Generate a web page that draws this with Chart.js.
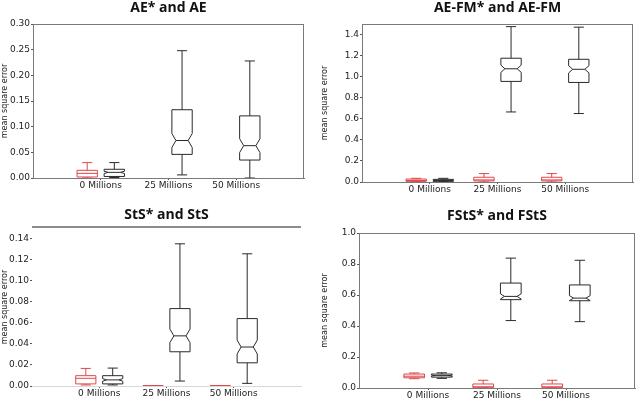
<!DOCTYPE html>
<html lang="en">
<head>
<meta charset="UTF-8">
<title>Mean square error boxplots</title>
<script src="https://cdn.jsdelivr.net/npm/chart.js"></script>
<style>
  body { margin: 0; background: #fff; }
  .panel { position: absolute; width: 320px; height: 199px; }
</style>
</head>
<body>
<div class="panel" style="left:0;top:0"><canvas id="ae"></canvas></div>
<div class="panel" style="left:320px;top:0"><canvas id="aefm"></canvas></div>
<div class="panel" style="left:0;top:199px"><canvas id="sts"></canvas></div>
<div class="panel" style="left:320px;top:199px"><canvas id="fsts"></canvas></div>

<script>
// categories on the x axis
const categories = ['0 Millions', '25 Millions', '50 Millions'];

// one entry per category: [whisker low, Q1, median, Q3, whisker high], null = no box
const aeStar   = [[0.000, 0.002, 0.009, 0.015, 0.030], null, null];
const ae       = [[0.001, 0.003, 0.011, 0.017, 0.030], [0.006, 0.046, 0.073, 0.133, 0.248], [0.000, 0.035, 0.063, 0.121, 0.228]];
const aeFmStar = [[0.000, 0.006, 0.014, 0.028, 0.035], [0.000, 0.010, 0.020, 0.045, 0.080], [0.000, 0.010, 0.020, 0.045, 0.080]];
const aeFm     = [[0.000, 0.006, 0.014, 0.025, 0.035], [0.665, 0.955, 1.075, 1.175, 1.475], [0.650, 0.945, 1.070, 1.165, 1.470]];
const stsStar  = [[0.001, 0.002, 0.0073, 0.0098, 0.0167], [0.0000, 0.0001, 0.0002, 0.0003, 0.0004], [0.0000, 0.0001, 0.0002, 0.0003, 0.0004]];
const sts      = [[0.001, 0.002, 0.0058, 0.0098, 0.017], [0.0047, 0.0325, 0.0476, 0.0735, 0.135], [0.0025, 0.022, 0.037, 0.064, 0.1255]];
const fstsStar = [[0.060, 0.066, 0.076, 0.090, 0.097], [0.000, 0.002, 0.008, 0.026, 0.050], [0.000, 0.002, 0.008, 0.026, 0.050]];
const fsts     = [[0.062, 0.070, 0.080, 0.090, 0.098], [0.435, 0.570, 0.591, 0.677, 0.838], [0.428, 0.563, 0.580, 0.665, 0.824]];

// y tick labels
const aeTicks   = [0, 0.05, 0.10, 0.15, 0.20, 0.25, 0.30];
const aeFmTicks = [0, 0.2, 0.4, 0.6, 0.8, 1.0, 1.2, 1.4];
const stsTicks  = [0, 0.02, 0.04, 0.06, 0.08, 0.10, 0.12, 0.14];
const fstsTicks = [0, 0.2, 0.4, 0.6, 0.8, 1.0];

const RED = '#e0474c';
const BLACK = '#2a2a2a';
const FRAME = '#7a7a7a';
const BOX_W = 0.3;      // box width in x units
const OFFSET = 0.2;     // star box left of tick, plain box right
const NOTCH_K = 0.157;  // 1.57 / sqrt(100)

const panels = [
  { id: 'ae', title: 'AE* and AE', star: aeStar, plain: ae, ticks: aeTicks, max: 0.30, dec: 2,
    area: { left: 33, right: 304, top: 24, bottom: 178 }, titleY: 8.5, frame: 'box' },
  { id: 'aefm', title: 'AE-FM* and AE-FM', star: aeFmStar, plain: aeFm, ticks: aeFmTicks, max: 1.5, dec: 1,
    area: { left: 42, right: 313, top: 24, bottom: 182 }, titleY: 8.5, frame: 'box' },
  { id: 'sts', title: 'StS* and StS', star: stsStar, plain: sts, ticks: stsTicks, max: 0.15, dec: 2,
    area: { left: 32, right: 301, top: 29, bottom: 187 }, titleY: 16.5, frame: 'top' },
  { id: 'fsts', title: 'FStS* and FStS', star: fstsStar, plain: fsts, ticks: fstsTicks, max: 1.0, dec: 1,
    area: { left: 39, right: 315, top: 34, bottom: 189 }, titleY: 17.5, frame: 'box' }
];

function drawBox(ctx, xs, ys, pos, s, color, notched) {
  if (!s) return;
  const [lo, q1, med, q3, hi] = s;
  const py = v => ys.getPixelForValue(v);
  const xc = xs.getPixelForValue(pos);
  const half = xs.getPixelForValue(pos + BOX_W / 2) - xc;
  const cap = half / 2;
  const L = xc - half, R = xc + half;
  ctx.save();
  ctx.strokeStyle = color;
  ctx.lineWidth = 1;
  // whiskers and caps
  ctx.beginPath();
  ctx.moveTo(xc, py(q3)); ctx.lineTo(xc, py(hi));
  ctx.moveTo(xc, py(q1)); ctx.lineTo(xc, py(lo));
  ctx.moveTo(xc - cap, py(hi)); ctx.lineTo(xc + cap, py(hi));
  ctx.moveTo(xc - cap, py(lo)); ctx.lineTo(xc + cap, py(lo));
  ctx.stroke();
  // box
  ctx.beginPath();
  let ind = 0;
  if (notched) {
    const d = NOTCH_K * (q3 - q1);
    ind = half * 0.4;
    ctx.moveTo(L, py(q1)); ctx.lineTo(R, py(q1));
    ctx.lineTo(R, py(med - d)); ctx.lineTo(R - ind, py(med)); ctx.lineTo(R, py(med + d));
    ctx.lineTo(R, py(q3)); ctx.lineTo(L, py(q3));
    ctx.lineTo(L, py(med + d)); ctx.lineTo(L + ind, py(med)); ctx.lineTo(L, py(med - d));
    ctx.closePath();
  } else {
    ctx.rect(L, py(q3), R - L, py(q1) - py(q3));
  }
  ctx.stroke();
  // median
  ctx.beginPath();
  ctx.moveTo(L + ind, py(med)); ctx.lineTo(R - ind, py(med));
  ctx.stroke();
  ctx.restore();
}

const boxPlugin = {
  id: 'boxes',
  afterDatasetsDraw(chart, args, opts) {
    const ctx = chart.ctx, xs = chart.scales.x, ys = chart.scales.y;
    ctx.save();
    ctx.beginPath();
    ctx.rect(chart.chartArea.left, chart.chartArea.top - 2, chart.chartArea.width, chart.chartArea.height + 2);
    ctx.clip();
    opts.star.forEach((s, i) => drawBox(ctx, xs, ys, i + 1 - OFFSET, s, RED, false));
    opts.plain.forEach((s, i) => drawBox(ctx, xs, ys, i + 1 + OFFSET, s, BLACK, true));
    ctx.restore();
  },
  afterDraw(chart, args, opts) {
    const ctx = chart.ctx, a = chart.chartArea;
    ctx.save();
    if (opts.frame === 'box') {
      ctx.strokeStyle = FRAME;
      ctx.lineWidth = 1;
      ctx.beginPath();
      ctx.moveTo(a.left, a.top + 0.5); ctx.lineTo(a.right, a.top + 0.5);
      ctx.moveTo(a.right - 0.5, a.top); ctx.lineTo(a.right - 0.5, a.bottom);
      ctx.stroke();
    } else {
      ctx.strokeStyle = '#8c8c8c';
      ctx.lineWidth = 2;
      ctx.beginPath();
      ctx.moveTo(a.left, a.top - 1); ctx.lineTo(a.right, a.top - 1);
      ctx.stroke();
    }
    ctx.restore();
  }
};

panels.forEach(p => {
  const a = p.area;
  const medians = [];
  p.plain.forEach((s, i) => { if (s) medians.push({ x: i + 1 + OFFSET, y: s[2] }); });
  const starMedians = [];
  p.star.forEach((s, i) => { if (s) starMedians.push({ x: i + 1 - OFFSET, y: s[2] }); });

  new Chart(document.getElementById(p.id), {
    type: 'scatter',
    data: {
      datasets: [
        { label: p.title.split(' and ')[0], data: starMedians, pointRadius: 0, borderColor: RED, backgroundColor: RED },
        { label: p.title.split(' and ')[1], data: medians, pointRadius: 0, borderColor: BLACK, backgroundColor: BLACK }
      ]
    },
    options: {
      responsive: true,
      maintainAspectRatio: false,
      animation: false,
      layout: { padding: { left: 0, top: 0, right: 320 - a.right, bottom: 0 } },
      plugins: {
        legend: { display: false },
        tooltip: { enabled: false },
        title: {
          display: true,
          text: p.title,
          fullSize: false,
          color: '#111',
          font: { family: '"Open Sans", sans-serif', size: 14, weight: 'bold', lineHeight: 1.2 },
          padding: { top: p.titleY - 8.4, bottom: a.top - p.titleY - 8.4 }
        },
        boxes: { star: p.star, plain: p.plain, frame: p.frame }
      },
      scales: {
        x: {
          type: 'linear',
          min: 0,
          max: 4,
          afterBuildTicks: s => { s.ticks = categories.map((c, i) => ({ value: i + 1 })); },
          afterFit: s => { s.height = 199 - a.bottom; },
          grid: { display: true, drawOnChartArea: false, tickLength: 2, tickColor: '#555' },
          border: { display: true, color: p.frame === 'box' ? FRAME : '#d8d8d8', width: 1 },
          ticks: {
            autoSkip: false, maxRotation: 0, padding: 0, color: '#222',
            font: { family: '"DejaVu Sans", sans-serif', size: 9 },
            callback: v => categories[Math.round(v) - 1]
          }
        },
        y: {
          type: 'linear',
          min: 0,
          max: p.max,
          afterBuildTicks: s => { s.ticks = p.ticks.map(v => ({ value: v })); },
          afterFit: s => { s.width = a.left; },
          grid: { display: true, drawOnChartArea: false, tickLength: 2, tickColor: '#555' },
          border: { display: p.frame === 'box', color: FRAME, width: 1 },
          ticks: {
            padding: 1, color: '#222',
            font: { family: '"DejaVu Sans", sans-serif', size: 9 },
            callback: v => Number(v).toFixed(p.dec)
          },
          title: {
            display: true,
            text: 'mean square error',
            color: '#222',
            padding: { top: 0, bottom: 0 },
            font: { family: '"DejaVu Sans", sans-serif', size: 8 }
          }
        }
      }
    },
    plugins: [boxPlugin]
  });
});
</script>
</body>
</html>
